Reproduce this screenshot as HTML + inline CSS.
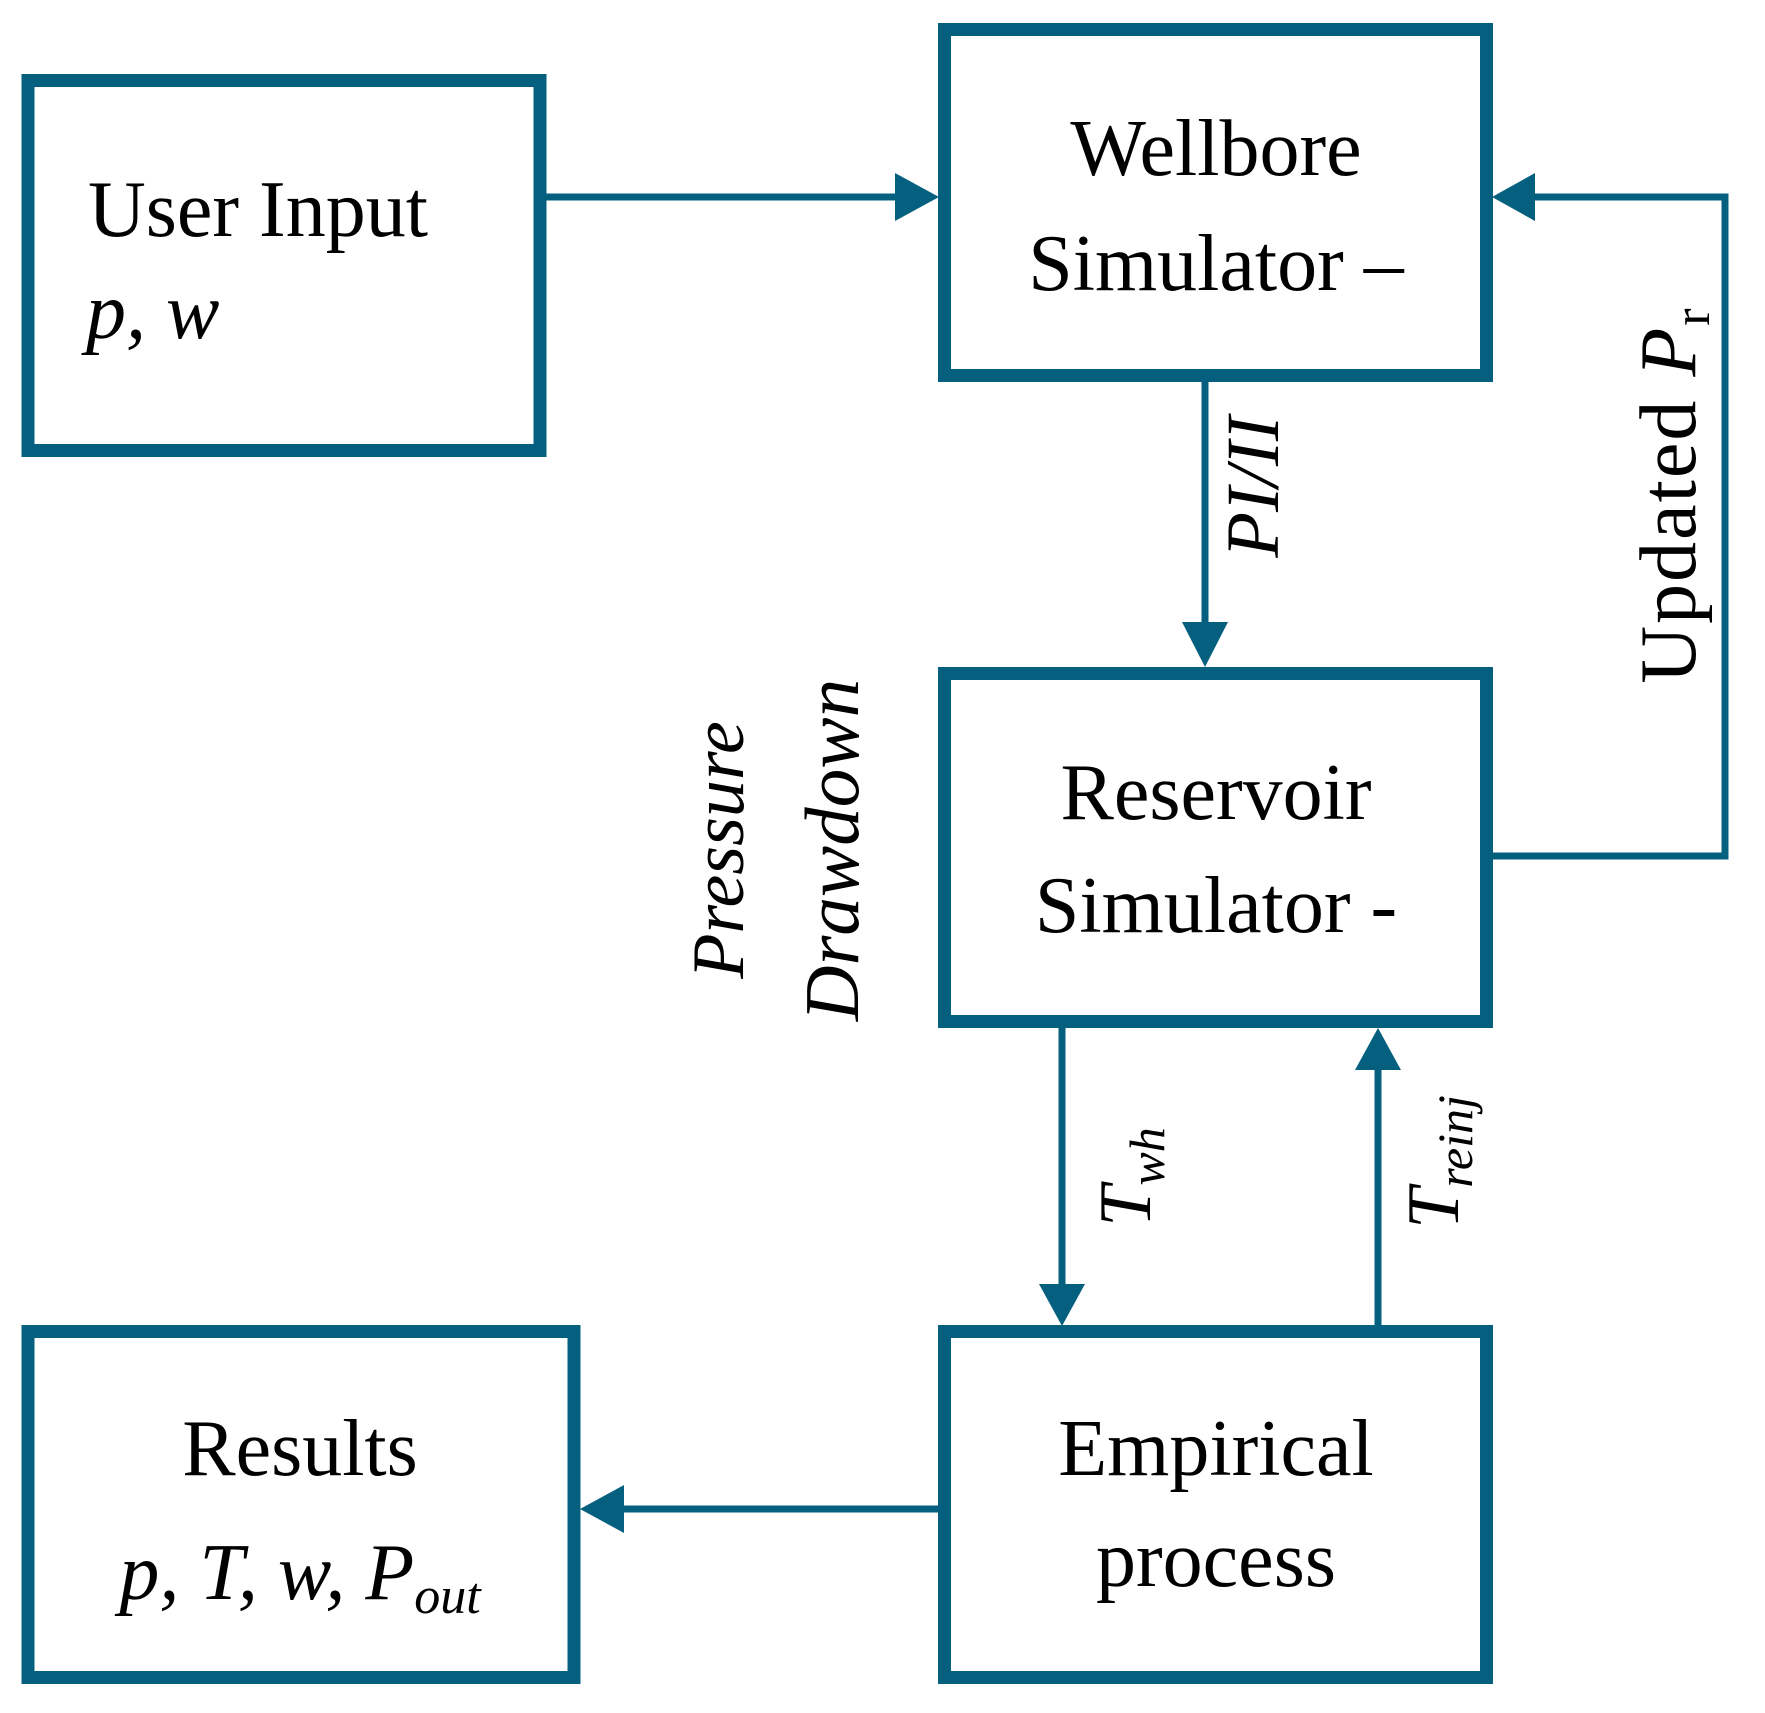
<!DOCTYPE html>
<html><head><meta charset="utf-8"><style>html,body{margin:0;padding:0;background:#fff}svg{display:block}</style></head>
<body>
<svg width="1765" height="1713" viewBox="0 0 1765 1713" xmlns="http://www.w3.org/2000/svg">
<g fill="none" stroke="#05607f" stroke-width="13">
<rect x="28" y="80.5" width="512" height="370"/>
<rect x="944.5" y="29.5" width="542" height="346"/>
<rect x="944.5" y="673.5" width="542" height="348"/>
<rect x="944.5" y="1331.5" width="542" height="346"/>
<rect x="28" y="1331.5" width="546" height="346"/>
</g>
<g stroke="#05607f" stroke-width="7" fill="none">
<line x1="540" y1="197" x2="900" y2="197"/>
<polyline points="1530,197 1725,197 1725,856 1486,856"/>
<line x1="1205" y1="375" x2="1205" y2="625"/>
<line x1="1062" y1="1021" x2="1062" y2="1290"/>
<line x1="1378" y1="1065" x2="1378" y2="1331"/>
<line x1="944" y1="1509" x2="618" y2="1509"/>
</g>
<g fill="#05607f">
<polygon points="895,173 939,197 895,221"/>
<polygon points="1535,173 1492,197 1535,221"/>
<polygon points="1182,622 1228,622 1205,667"/>
<polygon points="1039,1284 1085,1284 1062,1326"/>
<polygon points="1355,1070 1401,1070 1378,1028"/>
<polygon points="624,1485 624,1533 580,1509"/>
</g>
<g font-family="'Liberation Serif', serif" font-size="80" fill="#000">
<text x="88" y="236">User Input</text>
<text x="86" y="338" font-style="italic">p, w</text>
<text x="1216" y="175" text-anchor="middle">Wellbore</text>
<text x="1216" y="290" text-anchor="middle">Simulator –</text>
<text x="1216" y="819" text-anchor="middle">Reservoir</text>
<text x="1216" y="932" text-anchor="middle">Simulator -</text>
<text x="1216" y="1475" text-anchor="middle">Empirical</text>
<text x="1216" y="1586" text-anchor="middle">process</text>
<text x="300" y="1475" text-anchor="middle">Results</text>
<text x="300" y="1599" text-anchor="middle" font-style="italic">p, T, w, P<tspan font-size="52" dy="14">out</tspan></text>
<g font-style="italic">
<text transform="translate(1278,487) rotate(-90)" text-anchor="middle" font-size="75">PI/II</text>
<text transform="translate(743,850) rotate(-90)" text-anchor="middle" font-size="74">Pressure</text>
<text transform="translate(858,850) rotate(-90)" text-anchor="middle" font-size="77">Drawdown</text>
<text transform="translate(1150,1177) rotate(-90)" text-anchor="middle" font-size="74">T<tspan font-size="50" dy="14">wh</tspan></text>
<text transform="translate(1458,1162) rotate(-90)" text-anchor="middle" font-size="74">T<tspan font-size="50" dy="14">reinj</tspan></text>
</g>
<text transform="translate(1695,495) rotate(-90)" text-anchor="middle" font-size="80" letter-spacing="2">Updated <tspan font-style="italic">P</tspan><tspan font-size="52" dy="14">r</tspan></text>
</g>
</svg>
</body></html>
